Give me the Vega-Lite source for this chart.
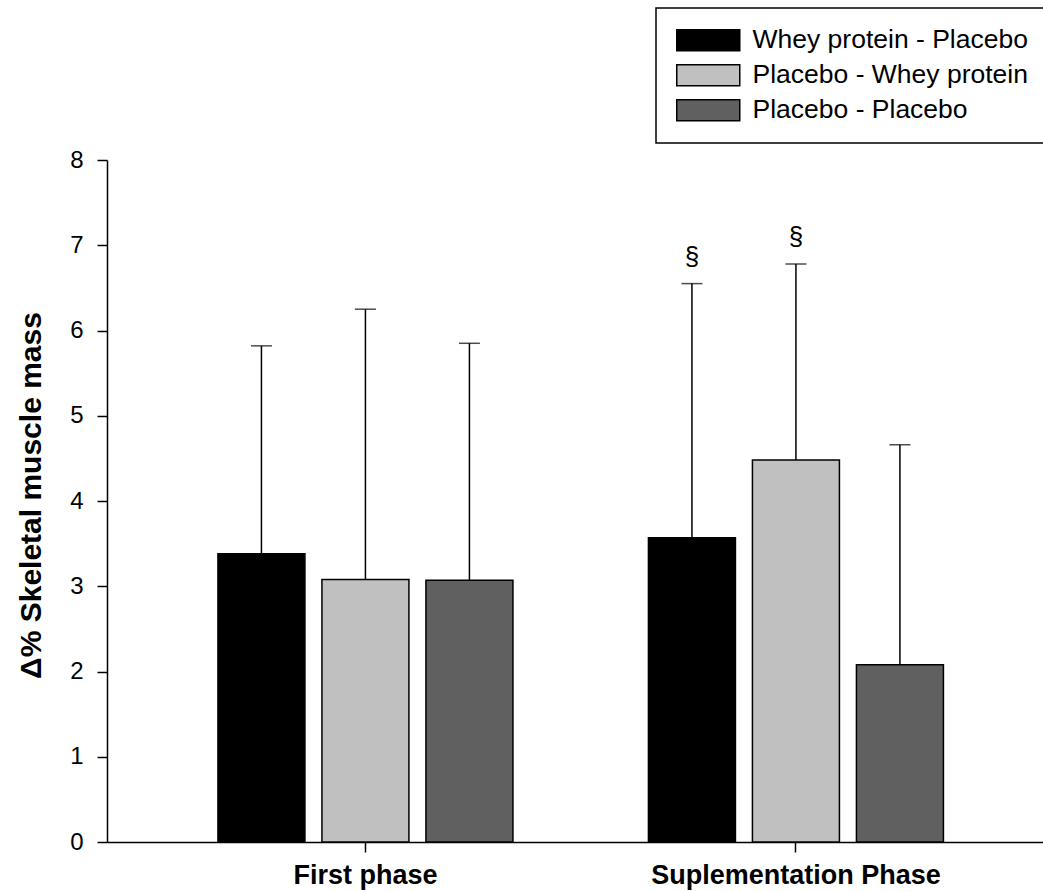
{
  "$schema": "https://vega.github.io/schema/vega-lite/v6.json",
  "autosize": {"type": "none"},
  "width": 936,
  "height": 682,
  "padding": {"left": 107, "top": 160, "right": 0, "bottom": 49},
  "background": "white",
  "data": {
    "values": [
      {"phase": "First phase", "group": "Whey protein - Placebo", "value": 3.38, "upper": 5.82, "mark": ""},
      {"phase": "First phase", "group": "Placebo - Whey protein", "value": 3.08, "upper": 6.25, "mark": ""},
      {"phase": "First phase", "group": "Placebo - Placebo", "value": 3.07, "upper": 5.85, "mark": ""},
      {"phase": "Suplementation Phase", "group": "Whey protein - Placebo", "value": 3.57, "upper": 6.55, "mark": "§"},
      {"phase": "Suplementation Phase", "group": "Placebo - Whey protein", "value": 4.48, "upper": 6.78, "mark": "§"},
      {"phase": "Suplementation Phase", "group": "Placebo - Placebo", "value": 2.08, "upper": 4.66, "mark": ""}
    ]
  },
  "encoding": {
    "x": {
      "field": "phase",
      "type": "nominal",
      "sort": ["First phase", "Suplementation Phase"],
      "scale": {"paddingInner": 0.3148, "paddingOuter": 0.2445, "align": 0.527},
      "axis": {
        "title": null,
        "labelAngle": 0,
        "labelFont": "Liberation Sans",
        "labelFontSize": 27,
        "labelFontWeight": "bold",
        "labelColor": "black",
        "labelLimit": 500,
        "labelPadding": 10,
        "tickSize": 10,
        "tickWidth": 1.5,
        "tickColor": "black",
        "domainColor": "black",
        "domainWidth": 1.5,
        "encode": {"labels": {"update": {"dx": {"signal": "datum.value === 'First phase' ? 9 : -8"}}}}
      }
    },
    "xOffset": {
      "field": "group",
      "type": "nominal",
      "sort": ["Whey protein - Placebo", "Placebo - Whey protein", "Placebo - Placebo"],
      "scale": {"paddingInner": 0.1635, "paddingOuter": 0}
    }
  },
  "layer": [
    {
      "mark": {"type": "rule", "color": "black", "strokeWidth": 1.5},
      "encoding": {
        "y": {"field": "value", "type": "quantitative"},
        "y2": {"field": "upper"}
      }
    },
    {
      "mark": {"type": "tick", "color": "black", "size": 21, "thickness": 1.5},
      "encoding": {
        "y": {"field": "upper", "type": "quantitative"}
      }
    },
    {
      "mark": {"type": "bar", "stroke": "black", "strokeWidth": 1.5},
      "encoding": {
        "y": {
          "field": "value",
          "type": "quantitative",
          "scale": {"domain": [0, 8], "nice": false},
          "axis": {
            "title": "Δ% Skeletal muscle mass",
            "values": [0, 1, 2, 3, 4, 5, 6, 7, 8],
            "format": "d",
            "grid": false,
            "labelFont": "Liberation Sans",
            "labelFontSize": 24,
            "labelColor": "black",
            "labelPadding": 14,
            "tickSize": 10,
            "tickWidth": 1.5,
            "tickColor": "black",
            "domainColor": "black",
            "domainWidth": 1.5,
            "titleFont": "Liberation Sans",
            "titleFontSize": 30,
            "titleFontWeight": "bold",
            "titleColor": "black",
            "titleAngle": -90,
            "titleAlign": "center",
            "titleBaseline": "alphabetic",
            "titleX": -67,
            "titleY": 335
          }
        },
        "color": {
          "field": "group",
          "type": "nominal",
          "scale": {
            "domain": ["Whey protein - Placebo", "Placebo - Whey protein", "Placebo - Placebo"],
            "range": ["#000000", "#c0c0c0", "#606060"]
          },
          "legend": {
            "title": null,
            "orient": "none",
            "legendX": 549,
            "legendY": -152,
            "direction": "vertical",
            "strokeColor": "black",
            "fillColor": "white",
            "padding": 19,
            "symbolType": "M-3,-1H3V1H-3Z",
            "symbolSize": 441,
            "symbolStrokeColor": "black",
            "symbolStrokeWidth": 1.5,
            "symbolOffset": 20,
            "labelOffset": 31,
            "labelFont": "Liberation Sans",
            "labelFontSize": 26.5,
            "labelColor": "black",
            "labelLimit": 400,
            "rowPadding": 7,
            "encode": {"legend": {"update": {"strokeWidth": {"value": 1.5}}}}
          }
        }
      }
    },
    {
      "mark": {"type": "text", "font": "Liberation Sans", "fontSize": 26, "color": "black", "baseline": "alphabetic", "dy": -19},
      "encoding": {
        "y": {"field": "upper", "type": "quantitative"},
        "text": {"field": "mark"}
      }
    }
  ],
  "config": {
    "view": {"stroke": null}
  }
}
